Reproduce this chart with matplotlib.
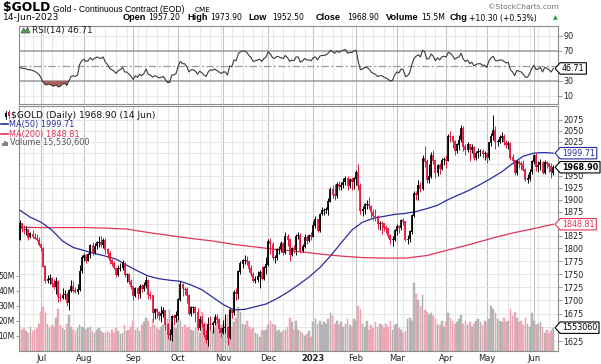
import numpy as np
import pandas as pd
import matplotlib
matplotlib.use("Agg")
import matplotlib.pyplot as plt
from matplotlib.path import Path
from matplotlib.lines import Line2D
from matplotlib.patches import Polygon, Rectangle
from matplotlib.transforms import blended_transform_factory

plt.rcParams['font.family'] = ['DejaVu Sans']

W, H = 601, 364

# sessions shown: 16 Jun 2022 .. 14 Jun 2023, US market holidays removed
holidays = ["2022-06-20", "2022-07-04", "2022-09-05", "2022-11-24", "2022-12-26",
            "2023-01-02", "2023-01-16", "2023-02-20", "2023-04-07", "2023-05-29"]
dates = pd.bdate_range("2022-06-16", "2023-06-14")
dates = dates[~dates.isin(pd.to_datetime(holidays))]

opens = [1818, 1850, 1839, 1837, 1838, 1823, 1829, 1823, 1821, 1817,
         1808, 1801, 1764, 1737, 1740, 1742, 1732, 1725, 1736, 1706,
         1704, 1710, 1711, 1695, 1719, 1727, 1719, 1717, 1720, 1756,
         1782, 1787, 1776, 1788, 1806, 1791, 1805, 1812, 1813, 1807,
         1816, 1798, 1790, 1776, 1771, 1762, 1748, 1761, 1762, 1771,
         1749, 1750, 1736, 1726, 1709, 1722, 1712, 1727, 1721, 1728,
         1738, 1711, 1709, 1677, 1683, 1678, 1672, 1675, 1681, 1655,
         1636, 1637, 1670, 1668, 1672, 1702, 1730, 1721, 1720, 1709,
         1675, 1686, 1687, 1677, 1649, 1664, 1656, 1636, 1628, 1656,
         1654, 1658, 1669, 1664, 1648, 1640, 1649, 1650, 1631, 1681,
         1676, 1715, 1713, 1755, 1771, 1776, 1777, 1774, 1761, 1750,
         1738, 1740, 1745, 1754, 1741, 1763, 1768, 1815, 1809, 1781,
         1782, 1798, 1799, 1810, 1792, 1825, 1818, 1788, 1800, 1797,
         1825, 1826, 1796, 1804, 1823, 1815, 1826, 1824, 1846, 1859,
         1836, 1870, 1877, 1878, 1879, 1896, 1921, 1911, 1907, 1932,
         1926, 1931, 1937, 1946, 1930, 1942, 1938, 1945, 1957, 1930,
         1877, 1880, 1890, 1891, 1886, 1874, 1866, 1865, 1850, 1851,
         1850, 1842, 1840, 1826, 1817, 1818, 1836, 1844, 1841, 1856,
         1854, 1818, 1819, 1834, 1867, 1913, 1910, 1931, 1923, 1989,
         1982, 1941, 1949, 1996, 1983, 1956, 1974, 1965, 1985, 1986,
         1984, 2038, 2037, 2026, 2005, 2019, 2029, 2055, 2015, 2008,
         2019, 2007, 2012, 1990, 2000, 2004, 2005, 1999, 2000, 1990,
         2023, 2038, 2050, 2025, 2026, 2035, 2037, 2025, 2019, 2022,
         1990, 1983, 1958, 1981, 1977, 1975, 1964, 1943, 1944, 1959,
         1982, 1995, 1969, 1974, 1979, 1958, 1979, 1977, 1970, 1957.2]
highs = [1858, 1852, 1847, 1846, 1840, 1833, 1838, 1832, 1830, 1823,
         1811, 1803, 1768, 1748, 1750, 1745, 1740, 1745, 1738, 1714,
         1724, 1720, 1716, 1722, 1739, 1736, 1726, 1730, 1767, 1787,
         1792, 1790, 1792, 1809, 1812, 1810, 1814, 1824, 1825, 1820,
         1821, 1800, 1795, 1780, 1775, 1764, 1768, 1772, 1777, 1773,
         1752, 1751, 1740, 1727, 1726, 1726, 1730, 1730, 1735, 1746,
         1740, 1717, 1710, 1686, 1686, 1680, 1690, 1688, 1682, 1658,
         1647, 1672, 1675, 1680, 1705, 1736, 1733, 1725, 1726, 1711,
         1690, 1690, 1690, 1685, 1670, 1672, 1660, 1645, 1668, 1670,
         1662, 1675, 1675, 1667, 1650, 1663, 1675, 1652, 1685, 1684,
         1720, 1723, 1758, 1775, 1779, 1787, 1785, 1776, 1768, 1753,
         1746, 1755, 1758, 1765, 1766, 1783, 1818, 1820, 1812, 1788,
         1800, 1805, 1815, 1812, 1833, 1830, 1818, 1802, 1807, 1830,
         1834, 1832, 1809, 1829, 1828, 1830, 1833, 1855, 1866, 1860,
         1872, 1884, 1882, 1885, 1904, 1926, 1930, 1933, 1937, 1940,
         1938, 1945, 1950, 1950, 1945, 1948, 1948, 1962, 1975, 1934,
         1887, 1892, 1900, 1905, 1888, 1880, 1880, 1868, 1855, 1855,
         1852, 1848, 1842, 1830, 1825, 1840, 1850, 1848, 1860, 1862,
         1856, 1826, 1838, 1870, 1918, 1918, 1941, 1937, 1995, 2015,
         1987, 1975, 2003, 2006, 1985, 1977, 1978, 1990, 1992, 1995,
         2042, 2050, 2040, 2028, 2022, 2040, 2063, 2060, 2020, 2025,
         2021, 2020, 2015, 2005, 2012, 2010, 2008, 2005, 2003, 2025,
         2045, 2085, 2060, 2032, 2040, 2048, 2043, 2030, 2027, 2024,
         1998, 1985, 1985, 1985, 1982, 1985, 1967, 1955, 1965, 1985,
         1998, 2001, 1983, 1987, 1982, 1985, 1983, 1978, 1978, 1973.9]
lows = [1816, 1833, 1830, 1827, 1817, 1820, 1820, 1818, 1814, 1804,
        1795, 1763, 1732, 1733, 1730, 1726, 1722, 1711, 1697, 1698,
        1702, 1703, 1690, 1681, 1716, 1715, 1713, 1712, 1718, 1752,
        1775, 1771, 1775, 1782, 1787, 1789, 1799, 1802, 1803, 1800,
        1790, 1782, 1770, 1766, 1759, 1745, 1746, 1755, 1758, 1745,
        1734, 1730, 1722, 1700, 1706, 1703, 1705, 1715, 1718, 1724,
        1702, 1703, 1660, 1665, 1667, 1664, 1660, 1668, 1646, 1628,
        1627, 1625, 1654, 1659, 1664, 1699, 1708, 1710, 1695, 1672,
        1670, 1677, 1660, 1645, 1645, 1650, 1632, 1622, 1617, 1645,
        1640, 1655, 1658, 1640, 1633, 1638, 1640, 1618, 1628, 1667,
        1672, 1700, 1703, 1750, 1762, 1770, 1768, 1754, 1747, 1735,
        1733, 1735, 1724, 1739, 1738, 1750, 1765, 1790, 1778, 1772,
        1778, 1790, 1794, 1787, 1790, 1805, 1776, 1785, 1791, 1787,
        1818, 1792, 1794, 1801, 1808, 1812, 1817, 1822, 1842, 1834,
        1833, 1868, 1868, 1871, 1868, 1894, 1904, 1900, 1903, 1921,
        1920, 1925, 1930, 1920, 1924, 1921, 1922, 1930, 1920, 1870,
        1866, 1869, 1880, 1880, 1862, 1858, 1855, 1840, 1838, 1830,
        1835, 1832, 1820, 1809, 1805, 1815, 1828, 1832, 1838, 1848,
        1815, 1809, 1812, 1830, 1864, 1898, 1900, 1915, 1920, 1970,
        1935, 1935, 1945, 1975, 1945, 1950, 1955, 1962, 1973, 1968,
        1982, 2025, 2012, 1995, 2000, 2007, 2024, 2005, 1995, 2003,
        1983, 2000, 1985, 1985, 1990, 1993, 1990, 1985, 1978, 1985,
        2015, 2030, 2010, 2015, 2022, 2025, 2018, 2012, 2010, 1985,
        1975, 1952, 1952, 1968, 1962, 1960, 1940, 1935, 1940, 1955,
        1975, 1960, 1958, 1962, 1955, 1955, 1968, 1958, 1945, 1952.5]
closes = [1851, 1840, 1838, 1839, 1822, 1830, 1824, 1820, 1818, 1807,
          1801, 1764, 1737, 1740, 1742, 1732, 1725, 1736, 1706, 1704,
          1710, 1711, 1695, 1719, 1727, 1719, 1717, 1720, 1756, 1782,
          1787, 1776, 1788, 1806, 1791, 1805, 1812, 1813, 1807, 1816,
          1798, 1790, 1776, 1771, 1762, 1748, 1761, 1762, 1771, 1749,
          1750, 1736, 1726, 1709, 1722, 1712, 1727, 1721, 1728, 1738,
          1711, 1709, 1677, 1683, 1678, 1672, 1675, 1681, 1655, 1636,
          1637, 1670, 1668, 1672, 1702, 1730, 1721, 1720, 1709, 1675,
          1686, 1687, 1677, 1649, 1664, 1656, 1636, 1628, 1656, 1654,
          1658, 1669, 1664, 1648, 1640, 1649, 1650, 1631, 1681, 1676,
          1715, 1713, 1755, 1771, 1776, 1777, 1774, 1761, 1750, 1738,
          1740, 1745, 1754, 1741, 1763, 1768, 1815, 1809, 1781, 1782,
          1798, 1799, 1810, 1792, 1825, 1818, 1788, 1800, 1797, 1825,
          1826, 1796, 1804, 1823, 1815, 1826, 1824, 1846, 1859, 1836,
          1870, 1877, 1878, 1879, 1896, 1921, 1911, 1907, 1932, 1926,
          1931, 1937, 1946, 1930, 1942, 1938, 1945, 1957, 1930, 1877,
          1880, 1890, 1891, 1886, 1874, 1866, 1865, 1850, 1851, 1850,
          1842, 1840, 1826, 1817, 1818, 1836, 1844, 1841, 1856, 1854,
          1818, 1819, 1834, 1867, 1913, 1910, 1931, 1923, 1989, 1982,
          1941, 1949, 1996, 1983, 1956, 1974, 1965, 1985, 1986, 1984,
          2038, 2037, 2026, 2005, 2019, 2029, 2055, 2015, 2008, 2019,
          2007, 2012, 1990, 2000, 2004, 2005, 1999, 2000, 1990, 2023,
          2038, 2050, 2025, 2026, 2035, 2037, 2025, 2019, 2022, 1990,
          1983, 1958, 1981, 1977, 1975, 1964, 1943, 1944, 1959, 1982,
          1995, 1969, 1974, 1979, 1958, 1979, 1977, 1970, 1958.6, 1968.9]
# volume in millions of contracts
volumes = [17, 14, 15, 13, 12, 16, 13, 14, 15, 18,
           26, 29, 25, 18, 15, 17, 16, 22, 28, 17,
           15, 14, 18, 24, 16, 14, 13, 15, 17, 16,
           15, 14, 15, 16, 13, 12, 14, 15, 13, 12,
           12, 13, 12, 14, 12, 15, 13, 11, 12, 17,
           13, 14, 16, 20, 14, 15, 13, 17, 19, 22,
           20, 16, 21, 17, 15, 14, 16, 17, 19, 21,
           27, 19, 16, 15, 22, 20, 16, 17, 15, 16,
           14, 13, 15, 17, 12, 26, 17, 18, 15, 21,
           14, 16, 19, 15, 17, 18, 21, 24, 28, 16,
           19, 22, 29, 26, 18, 17, 20, 16, 14, 15,
           12, 11, 9, 14, 13, 14, 17, 20, 18, 17,
           13, 14, 12, 13, 14, 16, 22, 19, 14, 20,
           14, 13, 12, 10, 11, 13, 9, 19, 21, 18,
           20, 17, 19, 18, 21, 25, 23, 18, 20, 17,
           19, 16, 18, 21, 17, 16, 21, 20, 30, 28,
           18, 16, 20, 14, 17, 15, 19, 16, 18, 17,
           15, 18, 16, 20, 14, 17, 18, 15, 14, 12,
           13, 21, 22, 20, 45, 38, 34, 30, 37, 27,
           26, 24, 25, 23, 21, 18, 17, 20, 16, 19,
           25, 22, 20, 18, 19, 21, 24, 18, 20, 17,
           19, 16, 18, 20, 21, 19, 17, 20, 19, 21,
           30, 28, 25, 21, 20, 19, 22, 19, 20, 28,
           23, 26, 22, 19, 20, 17, 22, 18, 16, 25,
           20, 17, 18, 19, 16, 12, 14, 11, 13, 15.5306]
rsi = [48, 47, 47, 46, 45, 45, 44, 43, 41, 39,
       34, 28, 25, 25, 26, 24, 23, 25, 22, 23,
       26, 27, 24, 30, 36, 37, 36, 38, 52, 57,
       59, 56, 57, 61, 58, 60, 62, 61, 60, 62,
       55, 52, 47, 45, 43, 40, 44, 45, 48, 42,
       42, 39, 36, 32, 37, 35, 39, 37, 40, 46,
       39, 38, 35, 37, 36, 34, 35, 36, 32, 28,
       28, 38, 38, 40, 50, 56, 53, 53, 49, 42,
       45, 45, 43, 39, 43, 41, 38, 36, 42, 45,
       44, 46, 44, 42, 40, 42, 42, 38, 50, 49,
       58, 57, 66, 69, 70, 70, 68, 64, 61, 56,
       57, 58, 59, 56, 60, 62, 69, 66, 61, 60,
       63, 62, 61, 60, 64, 61, 56, 58, 57, 62,
       62, 55, 57, 60, 58, 58, 57, 61, 62, 58,
       63, 64, 64, 65, 67, 71, 69, 67, 70, 68,
       70, 71, 72, 67, 68, 68, 70, 71, 56, 45,
       46, 48, 48, 46, 42, 40, 39, 36, 37, 37,
       35, 34, 32, 30, 31, 38, 42, 41, 46, 45,
       36, 37, 41, 52, 60, 63, 65, 62, 71, 69,
       59, 60, 66, 63, 57, 61, 58, 62, 63, 62,
       68, 67, 64, 59, 61, 62, 67, 59, 56, 58,
       53, 55, 50, 52, 53, 53, 51, 51, 48, 57,
       61, 63, 57, 57, 58, 58, 56, 54, 55, 45,
       42, 37, 44, 43, 42, 39, 35, 35, 40, 47,
       51, 45, 46, 48, 42, 48, 47, 45, 42, 46.71]
# moving averages: MA(50) every 5 sessions, MA(200) every 10
ma50 = [1878, 1863, 1853, 1837, 1815, 1802, 1796, 1790, 1785, 1779,
        1767, 1756, 1746, 1741, 1738, 1736, 1729, 1720, 1706, 1692,
        1682, 1683, 1688, 1693, 1703, 1715, 1729, 1744, 1762, 1785,
        1811, 1837, 1853, 1861, 1865, 1869, 1871, 1875, 1881, 1888,
        1900, 1910, 1920, 1932, 1945, 1959, 1977, 1993, 2000, 2001, 1999.71]
ma200 = [1843, 1842, 1842, 1842, 1841, 1839, 1832, 1826, 1820, 1815,
         1808, 1803, 1798, 1794, 1789, 1785, 1782, 1781, 1781, 1786,
         1797, 1808, 1820, 1831, 1840, 1848.81]

n = len(dates)
x = np.arange(n)
o, h, l, c = (np.array(a, float) for a in (opens, highs, lows, closes))
vol = np.array(volumes, float)
rsi = np.array(rsi, float)
ma50_x = list(range(0, n, 5)) + [n - 1]
ma200_x = list(range(0, n, 10)) + [n - 1]

RED = '#e3173e'
BLUE = '#2b2ba0'
MARED = '#e0345a'
prev = np.r_[o[0], c[:-1]]
up = c >= prev
cols = np.where(up, 'black', RED)

fig = plt.figure(figsize=(W / 100, H / 100), dpi=100)


def rect(x0, y0, x1, y1):
    return [x0 / W, 1 - y1 / H, (x1 - x0) / W, (y1 - y0) / H]


def ftext(xp, yp, s, **kw):
    kw.setdefault('va', 'center')
    return fig.text(xp / W, 1 - yp / H, s, **kw)


ax_r = fig.add_axes(rect(19, 26, 558, 104))
ax_v = fig.add_axes(rect(19, 106, 558, 351))
ax_p = ax_v.twinx()

xlim = (-0.3, n + 1.2)
week_starts = [i for i in range(1, n) if dates[i].weekday() < dates[i - 1].weekday()]
month_starts = [i for i in range(1, n) if dates[i].month != dates[i - 1].month]

for ax in (ax_r, ax_v):
    ax.set_xlim(*xlim)
    for i in week_starts:
        ax.axvline(i, color='#e4e4e4', lw=0.6, zorder=0)
    for i in month_starts:
        ax.axvline(i, color='#c4c4c4', lw=0.8, zorder=0)
    for s in ax.spines.values():
        s.set_color('#8c8c8c')
        s.set_linewidth(0.8)
for s in ax_p.spines.values():
    s.set_visible(False)

# ---- RSI panel
ax_r.set_ylim(-0.7, 103.3)
for lvl in (10, 90):
    ax_r.axhline(lvl, color='#e4e4e4', lw=0.6, zorder=0)
ax_r.axhline(70, color='#9a9a9a', lw=1.1, zorder=1)
ax_r.axhline(30, color='#9a9a9a', lw=1.1, zorder=1)
ax_r.axhline(50, color='#9a9a9a', lw=0.9, dashes=(6, 2, 1.5, 2), zorder=1)
ax_r.fill_between(x, rsi, 30, where=rsi < 30, interpolate=True,
                  color='#b0605c', lw=0, zorder=2)
ax_r.plot(x, rsi, color='#3a3a3a', lw=0.8, zorder=3)
ax_r.set_xticks([])
ax_r.yaxis.tick_right()
ax_r.set_yticks([10, 30, 70, 90])
ax_r.tick_params(axis='y', length=3, width=0.6, color='#8c8c8c', pad=1,
                 labelsize=5.8, labelcolor='#222222')

# ---- volume (behind) and price panel
ax_v.set_zorder(1)
ax_p.set_zorder(2)
ax_p.patch.set_visible(False)
ax_v.bar(x, vol, width=0.78, color=np.where(up, '#bcbcbc', '#f3b3bf'),
         edgecolor=np.where(up, '#a0a0a0', '#e890a0'), lw=0.3, zorder=1)
ax_v.set_ylim(0, 163.3)
ax_v.set_yticks([10, 20, 30, 40, 50])
ax_v.set_yticklabels(['10M', '20M', '30M', '40M', '50M'])
ax_v.tick_params(axis='y', length=2, width=0.6, color='#8c8c8c', pad=1,
                 labelsize=5.5, labelcolor='#222222')

ax_p.set_yscale('log')
ax_p.set_ylim(1607.4, 2106.6)
ax_p.set_xlim(*xlim)
levels = np.arange(1625, 2076, 25)
# levels hidden behind the value tags carry no label, as in the chart
hidden = {1650, 1850, 1975, 2000}
ax_p.set_yticks(levels)
ax_p.set_yticklabels(['' if v in hidden else str(v) for v in levels])
ax_p.yaxis.set_minor_locator(matplotlib.ticker.NullLocator())
ax_p.tick_params(axis='y', length=3, width=0.6, color='#8c8c8c', pad=1,
                 labelsize=5.8, labelcolor='#222222')
gtr = blended_transform_factory(ax_v.transAxes, ax_p.transData)
for lvl in levels:
    ax_v.add_line(Line2D([0, 1], [lvl, lvl], transform=gtr, color='#e3e3e3',
                         lw=0.6, zorder=0))

ax_p.plot(ma200_x, ma200, color=MARED, lw=0.9, zorder=2)
ax_p.plot(ma50_x, ma50, color=BLUE, lw=0.9, zorder=2)
ax_p.vlines(x, l, h, colors=cols, lw=0.7, zorder=3)
ax_p.vlines(x, np.minimum(o, c) - 0.6, np.maximum(o, c) + 0.6, colors=cols,
            lw=1.25, zorder=3)

labels = [str(d.year) if d.month == 1 else d.strftime('%b') for d in dates[month_starts]]
ax_v.set_xticks(month_starts)
ax_v.set_xticklabels(labels)
ax_v.tick_params(axis='x', length=0, pad=2, labelsize=6, labelcolor='#222222')
for t in ax_v.get_xticklabels():
    if t.get_text().isdigit():
        t.set_fontweight('bold')


# ---- value tags on the right edge
def tag_shape(x0, y0, width, height, mutation_size):
    pad = 0.22 * mutation_size
    x0, y0 = x0 - pad, y0 - 0.15 * mutation_size
    w, hh = width + 2 * pad, height + 0.3 * mutation_size
    tip = 0.45 * hh
    return Path([(x0, y0), (x0 + w, y0), (x0 + w, y0 + hh), (x0, y0 + hh),
                 (x0 - tip, y0 + hh / 2), (x0, y0)], closed=True)


def ypix(ax, v):
    return H - ax.transData.transform((0, v))[1]


def tag(ax, v, s, color, weight='normal'):
    ftext(562, ypix(ax, v), s, color=color, fontsize=5.8, fontweight=weight,
          ha='left', zorder=10,
          bbox=dict(boxstyle=tag_shape, fc='white', ec=color, lw=0.8))


tag(ax_r, rsi[-1], '46.71', 'black')
tag(ax_p, ma50[-1], '1999.71', BLUE)
tag(ax_p, c[-1], '1968.90', 'black', 'bold')
tag(ax_p, ma200[-1], '1848.81', MARED)
tag(ax_v, vol[-1], '1553060', 'black')

# ---- header
ftext(3, 8, '$GOLD', fontsize=8.8, fontweight='bold')
ftext(53, 9, 'Gold - Continuous Contract (EOD)', fontsize=6.2, family='Liberation Sans')
ftext(195, 9.5, 'CME', fontsize=5.2)
ftext(488, 7, '\u00a9StockCharts.com', fontsize=5.4, color='#707070')
ftext(3, 18, '14-Jun-2023', fontsize=6.6)
hdr = [(123, 'Open', True), (148, '1957.20', False), (187, 'High', True),
       (210, '1973.90', False), (248, 'Low', True), (272, '1952.50', False),
       (316, 'Close', True), (347, '1968.90', False), (386, 'Volume', True),
       (421, '15.5M', False), (450, 'Chg', True), (469, '+10.30 (+0.53%)', False)]
for xp, s, b in hdr:
    if b:
        ftext(xp, 18, s, fontsize=6.6, fontweight='bold', family='Liberation Sans')
    else:
        ftext(xp, 18, s, fontsize=5.6)
ftext(553, 17.5, '\u25b2', fontsize=4.5, color='#20a020')

# ---- panel legends
fig.add_artist(Polygon([[21 / W, 1 - 33 / H], [23.5 / W, 1 - 28 / H], [25.5 / W, 1 - 31 / H],
                        [27.5 / W, 1 - 27 / H], [30 / W, 1 - 33 / H]], closed=True,
                       fc='#5ea35e', ec='#333333', lw=0.4))
ftext(32, 30, 'RSI(14) 46.71', fontsize=6.4, color='#222222')

fig.add_artist(Line2D([5.5 / W, 5.5 / W], [1 - 111 / H, 1 - 119 / H], color='black', lw=0.6))
fig.add_artist(Rectangle((4.5 / W, 1 - 117 / H), 2 / W, 4 / H, color='black', lw=0))
fig.add_artist(Line2D([8.5 / W, 8.5 / W], [1 - 110 / H, 1 - 118 / H], color=RED, lw=0.6))
fig.add_artist(Rectangle((7.5 / W, 1 - 116 / H), 2 / W, 4 / H, color=RED, lw=0))
ftext(11, 115, '$GOLD (Daily) 1968.90 (14 Jun)', fontsize=6.6, color='#111111')
fig.add_artist(Line2D([1 / W, 8 / W], [1 - 124.3 / H] * 2, color=BLUE, lw=1.2))
ftext(9, 124.3, 'MA(50) 1999.71', fontsize=5.9, color=BLUE)
fig.add_artist(Line2D([1 / W, 8 / W], [1 - 134 / H] * 2, color=MARED, lw=1.2))
ftext(9, 134, 'MA(200) 1848.81', fontsize=5.9, color=MARED)
for k, hb in enumerate((3, 5, 4)):
    fig.add_artist(Rectangle(((2 + 2.2 * k) / W, 1 - 145.5 / H), 1.5 / W, hb / H,
                             color='#808080', lw=0))
ftext(10, 142.7, 'Volume 15,530,600', fontsize=5.9, color='#555555')

fig.savefig('out.png', dpi=100)
